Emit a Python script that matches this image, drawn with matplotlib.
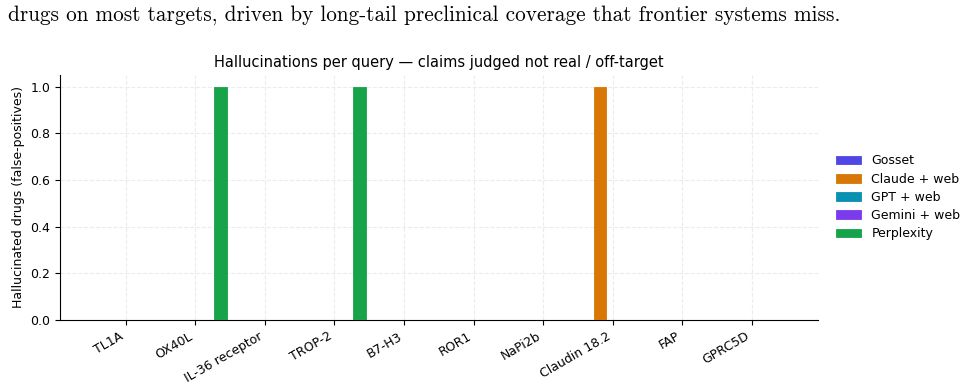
import matplotlib
matplotlib.use("Agg")
import matplotlib.pyplot as plt
import numpy as np

targets = ["TL1A", "OX40L", "IL-36 receptor", "TROP-2", "B7-H3", "ROR1",
           "NaPi2b", "Claudin 18.2", "FAP", "GPRC5D"]
series = ["Gosset", "Claude + web", "GPT + web", "Gemini + web", "Perplexity"]
gosset = [0, 0, 0, 0, 0, 0, 0, 0, 0, 0]
claude = [0, 0, 0, 0, 0, 0, 0, 1, 0, 0]
gpt = [0, 0, 0, 0, 0, 0, 0, 0, 0, 0]
gemini = [0, 0, 0, 0, 0, 0, 0, 0, 0, 0]
perplexity = [0, 1, 0, 1, 0, 0, 0, 0, 0, 0]
values = [gosset, claude, gpt, gemini, perplexity]
colors = ["#4F46E5", "#D97706", "#0891B2", "#7C3AED", "#16A34A"]

fig = plt.figure(figsize=(9.63, 3.86), dpi=100)
ax = fig.add_axes([0.0623, 0.171, 0.7867, 0.635])

x = np.arange(len(targets))
w = 0.18
for i, (name, vals, c) in enumerate(zip(series, values, colors)):
    ax.bar(x + (i - 2) * w, vals, width=w, color=c, label=name,
           edgecolor=c, linewidth=0.6, zorder=3)

ax.set_xticks(x)
ax.set_xticklabels(targets, rotation=30, ha="right", fontsize=9,
                   rotation_mode="default")
ax.tick_params(axis="y", labelsize=9)
ax.set_ylim(0, 1.05)
ax.set_yticks([0, 0.2, 0.4, 0.6, 0.8, 1.0])
ax.set_ylabel("Hallucinated drugs (false-positives)", fontsize=9)
ax.set_title("Hallucinations per query \u2014 claims judged not real / off-target",
             fontsize=10.5, pad=6)
ax.grid(True, linestyle="--", color="#ececec", linewidth=0.8, zorder=0)
ax.set_axisbelow(True)
for s in ["top", "right"]:
    ax.spines[s].set_visible(False)

ax.legend(loc="center left", bbox_to_anchor=(1.01, 0.5), frameon=False,
          fontsize=9, handlelength=2.0, labelspacing=0.42)

fig.text(0.008, 0.962,
         "drugs on most targets, driven by long-tail preclinical coverage that frontier systems miss.",
         fontsize=15.3, family="cmr10", va="center", ha="left")

fig.savefig("out.png", dpi=100)
